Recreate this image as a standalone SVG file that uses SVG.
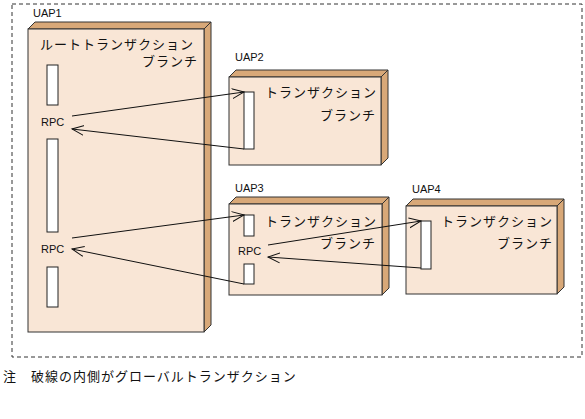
<svg xmlns="http://www.w3.org/2000/svg" width="585" height="419" viewBox="0 0 585 419">
<style>
.face{fill:#F9E6D6;stroke:#333;stroke-width:1}
.bevel{fill:#D8A878;stroke:#333;stroke-width:1}
.bar{fill:#fff;stroke:#222;stroke-width:1}
.jp{font-family:"Noto Sans CJK JP","Noto Sans",sans-serif;font-size:13px;letter-spacing:1px;fill:#111}
.lb{font-family:"Liberation Sans",Arial,sans-serif;font-size:11px;fill:#111}
.conn line{stroke:#111;stroke-width:1;fill:none}
</style>
<defs>
<marker id="arr" markerUnits="userSpaceOnUse" markerWidth="14" markerHeight="12" refX="12" refY="5" orient="auto" viewBox="0 0 14 10">
<path d="M0,0 L12,5 L0,10" fill="none" stroke="#111" stroke-width="1"/>
</marker>
</defs>
<rect x="12" y="4" width="570" height="353" fill="none" stroke="#333" stroke-width="1" stroke-dasharray="4,3"/>
<g id="uap1">
<text class="lb" x="33" y="17">UAP1</text>
<polygon class="bevel" points="28,29 35,22 211,22 204,29"/>
<polygon class="bevel" points="204,29 211,22 211,325 204,332"/>
<rect class="face" x="28" y="29" width="176" height="303"/>
<text class="jp" x="40" y="49">ルートトランザクション</text>
<text class="jp" x="142" y="66">ブランチ</text>
<rect class="bar" x="47" y="65" width="11" height="40"/>
<rect class="bar" x="47" y="139" width="11" height="93"/>
<rect class="bar" x="47" y="267" width="11" height="40"/>
<text class="lb" x="41" y="126">RPC</text>
<text class="lb" x="41" y="253">RPC</text>
</g>
<g id="uap2">
<text class="lb" x="235" y="61">UAP2</text>
<polygon class="bevel" points="229,77 236,70 388,70 381,77"/>
<polygon class="bevel" points="381,77 388,70 388,158 381,165"/>
<rect class="face" x="229" y="77" width="152" height="88"/>
<rect class="bar" x="244" y="92" width="10" height="57"/>
<text class="jp" x="265" y="97">トランザクション</text>
<text class="jp" x="320" y="120">ブランチ</text>
</g>
<g id="uap3">
<text class="lb" x="235" y="192">UAP3</text>
<polygon class="bevel" points="229,204 236,197 389,197 382,204"/>
<polygon class="bevel" points="382,204 389,197 389,288 382,295"/>
<rect class="face" x="229" y="204" width="153" height="91"/>
<rect class="bar" x="244" y="215" width="10" height="21"/>
<rect class="bar" x="244" y="264" width="10" height="20"/>
<text class="jp" x="265" y="226">トランザクション</text>
<text class="jp" x="320" y="248">ブランチ</text>
<text class="lb" x="238" y="255">RPC</text>
</g>
<g id="uap4">
<text class="lb" x="412" y="193">UAP4</text>
<polygon class="bevel" points="406,206 413,199 564,199 557,206"/>
<polygon class="bevel" points="557,206 564,199 564,287 557,294"/>
<rect class="face" x="406" y="206" width="151" height="88"/>
<rect class="bar" x="421" y="221" width="10" height="48"/>
<text class="jp" x="441" y="226">トランザクション</text>
<text class="jp" x="497" y="248">ブランチ</text>
</g>
<g id="connectors" class="conn">
<line x1="72" y1="116" x2="244" y2="92" marker-end="url(#arr)"/>
<line x1="244" y1="149" x2="72" y2="129" marker-end="url(#arr)"/>
<line x1="72" y1="238" x2="244" y2="215" marker-end="url(#arr)"/>
<line x1="244" y1="284" x2="72" y2="249" marker-end="url(#arr)"/>
<line x1="268" y1="245" x2="421" y2="221" marker-end="url(#arr)"/>
<line x1="421" y1="268" x2="268" y2="257" marker-end="url(#arr)"/>
</g>
<text class="jp" x="3" y="381">注　破線の内側がグローバルトランザクション</text>
</svg>
